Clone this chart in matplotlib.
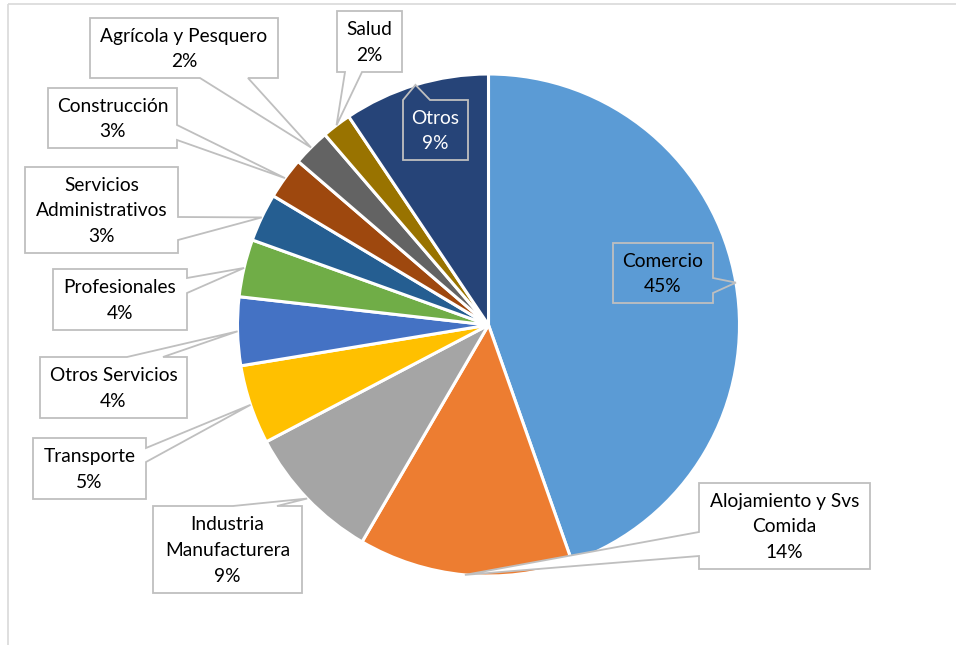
import matplotlib
matplotlib.use("Agg")
import matplotlib.pyplot as plt
import numpy as np
from matplotlib.patches import Polygon

# ---- data ----
categories = ["Comercio", "Alojamiento y Svs\nComida", "Industria\nManufacturera", "Transporte",
              "Otros Servicios", "Profesionales", "Servicios\nAdministrativos", "Construcción",
              "Agrícola y Pesquero", "Salud", "Otros"]
values = [44.6, 13.8, 8.9, 5.1, 4.4, 3.7, 3.1, 2.7, 2.4, 1.9, 9.4]
pct_labels = ["45%", "14%", "9%", "5%", "4%", "4%", "3%", "3%", "2%", "2%", "9%"]
colors = ["#5B9BD5", "#ED7D31", "#A5A5A5", "#FFC000", "#4472C4", "#70AD47",
          "#255E91", "#9E480E", "#636363", "#997300", "#264478"]

W, H = 956, 645
fig = plt.figure(figsize=(W / 100, H / 100), dpi=100)
ax = fig.add_axes([0, 0, 1, 1])
ax.set_xlim(0, W)
ax.set_ylim(0, H)
ax.set_aspect("equal")
ax.axis("off")

cx, cy, R = 488.5, H - 325, 251
wedges, _ = ax.pie(values, colors=colors, startangle=90, counterclock=False,
                   center=(cx, cy), radius=R, frame=True,
                   wedgeprops=dict(edgecolor="white", linewidth=2.2))
ax.set_xlim(0, W)
ax.set_ylim(0, H)
ax.axis("off")

def Y(y):
    return H - y

# label boxes: (x0, y0, x1, y1) in pixels (y down), side of pointer, pointer base (two coords along side)
boxes = [
    ((613, 243, 713, 303), "right", (278, 293)),   # Comercio
    ((699, 483, 870, 569), "left", (532, 556)),    # Alojamiento
    ((153, 506, 302, 593), "top", (233, 277)),     # Industria
    ((33, 438, 146, 499), "right", (448, 462)),    # Transporte
    ((40, 357, 187, 418), "top", (127, 163)),      # Otros Servicios
    ((53, 269, 187, 330), "right", (278, 293)),    # Profesionales
    ((25, 167, 178, 253), "right", (217, 240)),    # Serv Admin
    ((48, 88, 177, 148), "right", (125, 140)),     # Construcción
    ((90, 18, 278, 78), "bottom", (200, 248)),     # Agrícola
    ((337, 11, 402, 72), "bottom", (345, 362)),    # Salud
    ((403, 100, 468, 160), "top", (403, 430)),     # Otros
]
box_fill = ["#5B9BD5", "white", "white", "white", "white", "white", "white", "white", "white", "white", "#264478"]
text_col = ["black"] * 10 + ["white"]

for i, w in enumerate(wedges):
    mid = np.deg2rad((w.theta1 + w.theta2) / 2)
    tx = cx + R * np.cos(mid)
    ty = cy + R * np.sin(mid)
    (x0, y0, x1, y1), side, (b1, b2) = boxes[i]
    pts = [(x0, y0)]
    tip = (tx, H - ty)
    if side == "top":
        pts += [(b1, y0), tip, (b2, y0)]
    pts += [(x1, y0)]
    if side == "right":
        pts += [(x1, b1), tip, (x1, b2)]
    pts += [(x1, y1)]
    if side == "bottom":
        pts += [(b2, y1), tip, (b1, y1)]
    pts += [(x0, y1)]
    if side == "left":
        pts += [(x0, b2), tip, (x0, b1)]
    poly = Polygon([(px, Y(py)) for px, py in pts], closed=True,
                   facecolor=box_fill[i], edgecolor="#BFBFBF", linewidth=1.3, zorder=5)
    ax.add_patch(poly)
    ax.text((x0 + x1) / 2, Y((y0 + y1) / 2 + 1), categories[i] + "\n" + pct_labels[i],
            ha="center", va="center", fontsize=13.8, family="Lato",
            color=text_col[i], linespacing=1.62, zorder=6)

# chart area border (partially visible)
ax.plot([8, W], [Y(4), Y(4)], color="#D9D9D9", lw=1.2, solid_capstyle="butt")
ax.plot([8, 8], [Y(4), 0], color="#D9D9D9", lw=1.2, solid_capstyle="butt")

fig.savefig("out.png", dpi=100)
